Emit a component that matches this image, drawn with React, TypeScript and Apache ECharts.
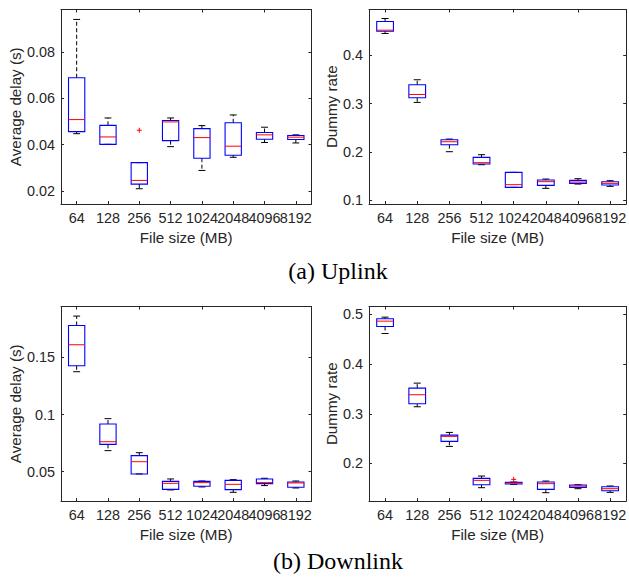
import React, { useEffect, useRef } from "react";
import * as echarts from "echarts";

const categories = ["64", "128", "256", "512", "1024", "2048", "4096", "8192"];

// each entry: [lower whisker, q1, median, q3, upper whisker]
const uplinkDelay = [
  [0.0447, 0.0456, 0.0508, 0.0689, 0.0941],
  [0.0401, 0.0401, 0.0433, 0.0483, 0.0515],
  [0.0209, 0.0229, 0.0245, 0.0322, 0.0322],
  [0.0391, 0.0417, 0.0498, 0.0504, 0.0515],
  [0.0288, 0.0341, 0.043, 0.0469, 0.0482],
  [0.0345, 0.0354, 0.0393, 0.0494, 0.0528],
  [0.0409, 0.0423, 0.0442, 0.0452, 0.0475],
  [0.0407, 0.0422, 0.0432, 0.0439, 0.0442],
];
const uplinkDelayOutliers = [[2, 0.0462]];

const uplinkDummy = [
  [0.4456, 0.4504, 0.4525, 0.4705, 0.4767],
  [0.3026, 0.3122, 0.3191, 0.3392, 0.3496],
  [0.2003, 0.2148, 0.221, 0.2252, 0.2265],
  [0.1733, 0.1747, 0.1775, 0.1885, 0.1941],
  [0.1263, 0.1263, 0.1319, 0.1574, 0.1574],
  [0.1243, 0.1305, 0.1381, 0.1415, 0.1436],
  [0.1332, 0.1346, 0.1374, 0.1408, 0.1443],
  [0.1284, 0.1312, 0.1346, 0.1381, 0.1402],
];
const uplinkDummyOutliers: number[][] = [];

const downlinkDelay = [
  [0.1375, 0.1427, 0.1611, 0.178, 0.1862],
  [0.0684, 0.0739, 0.0762, 0.0917, 0.0964],
  [0.048, 0.048, 0.0587, 0.064, 0.0666],
  [0.034, 0.0345, 0.0398, 0.0415, 0.0436],
  [0.0366, 0.0372, 0.0404, 0.0415, 0.0418],
  [0.0319, 0.0343, 0.0389, 0.0424, 0.043],
  [0.0378, 0.0395, 0.0404, 0.0436, 0.0442],
  [0.0357, 0.0363, 0.0401, 0.041, 0.0418],
];
const downlinkDelayOutliers: number[][] = [];

const downlinkDummy = [
  [0.4617, 0.4758, 0.4866, 0.4913, 0.4946],
  [0.3141, 0.3201, 0.3383, 0.3517, 0.3617],
  [0.2342, 0.2443, 0.2544, 0.257, 0.2624],
  [0.151, 0.157, 0.1658, 0.1698, 0.1745],
  [0.1577, 0.1584, 0.1604, 0.1617, 0.1624],
  [0.1409, 0.1477, 0.1591, 0.1624, 0.1644],
  [0.149, 0.1517, 0.1544, 0.1564, 0.157],
  [0.1416, 0.145, 0.149, 0.153, 0.1544],
];
const downlinkDummyOutliers = [[4, 0.1678]];

const delayUpTicks = [0.02, 0.04, 0.06, 0.08];
const dummyUpTicks = [0.1, 0.2, 0.3, 0.4];
const delayDownTicks = [0.05, 0.1, 0.15];
const dummyDownTicks = [0.2, 0.3, 0.4, 0.5];

const xTitle = "File size (MB)";
const delayTitle = "Average delay (s)";
const dummyTitle = "Dummy rate";
const captionA = "(a) Uplink";
const captionB = "(b) Downlink";

const AX = "#262626";
const FONT = "'Liberation Sans', Arial, sans-serif";
const TICK_FS = 14.4;
const NAME_FS = 15.2;

const panels = [
  { box: uplinkDelay, out: uplinkDelayOutliers, ticks: delayUpTicks, min: 0.0143, max: 0.0984, title: delayTitle, gap: 38, grid: { left: 61, top: 9.5, width: 250.5, height: 194.5 } },
  { box: uplinkDummy, out: uplinkDummyOutliers, ticks: dummyUpTicks, min: 0.0918, max: 0.4954, title: dummyTitle, gap: 30, grid: { left: 369, top: 9.5, width: 259.5, height: 194.5 } },
  { box: downlinkDelay, out: downlinkDelayOutliers, ticks: delayDownTicks, min: 0.0243, max: 0.1946, title: delayTitle, gap: 38, grid: { left: 61, top: 306.5, width: 250.5, height: 194.5 } },
  { box: downlinkDummy, out: downlinkDummyOutliers, ticks: dummyDownTicks, min: 0.1242, max: 0.5161, title: dummyTitle, gap: 30, grid: { left: 369, top: 306.5, width: 259.5, height: 194.5 } },
];

const boxRender = (params: any, api: any) => {
  const x = api.value(0);
  const lo = api.coord([x, api.value(1)]);
  const q1 = api.coord([x, api.value(2)]);
  const med = api.coord([x, api.value(3)]);
  const q3 = api.coord([x, api.value(4)]);
  const hi = api.coord([x, api.value(5)]);
  const band = api.size([1, 0])[0];
  const half = band * 0.26;
  const cap = band * 0.11;
  const cx = lo[0];
  const wStyle = { stroke: "#000", lineWidth: 1, lineDash: [4, 2.5] };
  const cStyle = { stroke: "#000", lineWidth: 1 };
  return {
    type: "group",
    children: [
      { type: "line", shape: { x1: cx, y1: q3[1], x2: cx, y2: hi[1] }, style: wStyle },
      { type: "line", shape: { x1: cx, y1: q1[1], x2: cx, y2: lo[1] }, style: wStyle },
      { type: "line", shape: { x1: cx - cap, y1: hi[1], x2: cx + cap, y2: hi[1] }, style: cStyle },
      { type: "line", shape: { x1: cx - cap, y1: lo[1], x2: cx + cap, y2: lo[1] }, style: cStyle },
      {
        type: "rect",
        shape: { x: cx - half, y: q3[1], width: 2 * half, height: q1[1] - q3[1] },
        style: { fill: "none", stroke: "#0000ff", lineWidth: 1.1 },
      },
      { type: "line", shape: { x1: cx - half, y1: med[1], x2: cx + half, y2: med[1] }, style: { stroke: "#ff0000", lineWidth: 1 } },
    ],
  };
};

const outRender = (params: any, api: any) => {
  const p = api.coord([api.value(0), api.value(1)]);
  const s = 2.5;
  const st = { stroke: "#ff0000", lineWidth: 1 };
  return {
    type: "group",
    children: [
      { type: "line", shape: { x1: p[0] - s, y1: p[1], x2: p[0] + s, y2: p[1] }, style: st },
      { type: "line", shape: { x1: p[0], y1: p[1] - s, x2: p[0], y2: p[1] + s }, style: st },
    ],
  };
};

function buildOption() {
  const grid: any[] = [];
  const xAxis: any[] = [];
  const yAxis: any[] = [];
  const series: any[] = [];
  panels.forEach((p, i) => {
    grid.push({ ...p.grid, containLabel: false });
    const tick = { show: true, inside: true, length: 3, alignWithLabel: true, lineStyle: { color: AX } };
    xAxis.push({
      type: "category",
      gridIndex: i,
      data: categories,
      position: "bottom",
      boundaryGap: true,
      axisLine: { show: true, lineStyle: { color: AX, width: 1 } },
      axisTick: tick,
      axisLabel: { interval: 0, hideOverlap: false, color: AX, fontFamily: FONT, fontSize: TICK_FS, margin: 7 },
      splitLine: { show: false },
      name: xTitle,
      nameLocation: "middle",
      nameGap: 26,
      nameTextStyle: { color: AX, fontFamily: FONT, fontSize: NAME_FS },
    });
    xAxis.push({
      type: "category",
      gridIndex: i,
      data: categories,
      position: "top",
      boundaryGap: true,
      axisLine: { show: true, lineStyle: { color: AX, width: 1 } },
      axisTick: tick,
      axisLabel: { show: false },
      splitLine: { show: false },
    });
    const yTick = { show: true, inside: true, length: 3, lineStyle: { color: AX }, customValues: p.ticks };
    yAxis.push({
      type: "value",
      gridIndex: i,
      position: "left",
      min: p.min,
      max: p.max,
      axisLine: { show: true, lineStyle: { color: AX, width: 1 } },
      axisTick: yTick,
      axisLabel: { customValues: p.ticks, color: AX, fontFamily: FONT, fontSize: TICK_FS, margin: 6 },
      splitLine: { show: false },
      name: p.title,
      nameLocation: "middle",
      nameGap: p.gap,
      nameRotate: 90,
      nameTextStyle: { color: AX, fontFamily: FONT, fontSize: NAME_FS },
    });
    yAxis.push({
      type: "value",
      gridIndex: i,
      position: "right",
      min: p.min,
      max: p.max,
      axisLine: { show: true, lineStyle: { color: AX, width: 1 } },
      axisTick: yTick,
      axisLabel: { show: false },
      splitLine: { show: false },
    });
    series.push({
      type: "custom",
      xAxisIndex: 2 * i,
      yAxisIndex: 2 * i,
      renderItem: boxRender,
      encode: { x: 0, y: [1, 2, 3, 4, 5] },
      data: p.box.map((b, k) => [k, ...b]),
      clip: false,
    });
    if (p.out.length) {
      series.push({
        type: "custom",
        xAxisIndex: 2 * i,
        yAxisIndex: 2 * i,
        renderItem: outRender,
        encode: { x: 0, y: 1 },
        data: p.out,
      });
    }
  });
  return {
    animation: false,
    backgroundColor: "#ffffff",
    grid,
    xAxis,
    yAxis,
    series,
    graphic: [
      {
        type: "text",
        x: 338,
        y: 271,
        style: { text: captionA, fontFamily: "'Liberation Serif', 'Times New Roman', serif", fontSize: 24, fill: "#000", align: "center", verticalAlign: "middle" },
      },
      {
        type: "text",
        x: 338,
        y: 561,
        style: { text: captionB, fontFamily: "'Liberation Serif', 'Times New Roman', serif", fontSize: 24, fill: "#000", align: "center", verticalAlign: "middle" },
      },
    ],
  };
}

export default function App() {
  const ref = useRef<HTMLDivElement>(null);
  useEffect(() => {
    if (!ref.current) return;
    const chart = echarts.init(ref.current, undefined, { renderer: "svg" });
    chart.setOption(buildOption() as any);
    return () => chart.dispose();
  }, []);
  return (
    <div
      ref={ref}
      style={{ position: "fixed", left: 0, top: 0, width: 629, height: 581, background: "#fff" }}
    />
  );
}
